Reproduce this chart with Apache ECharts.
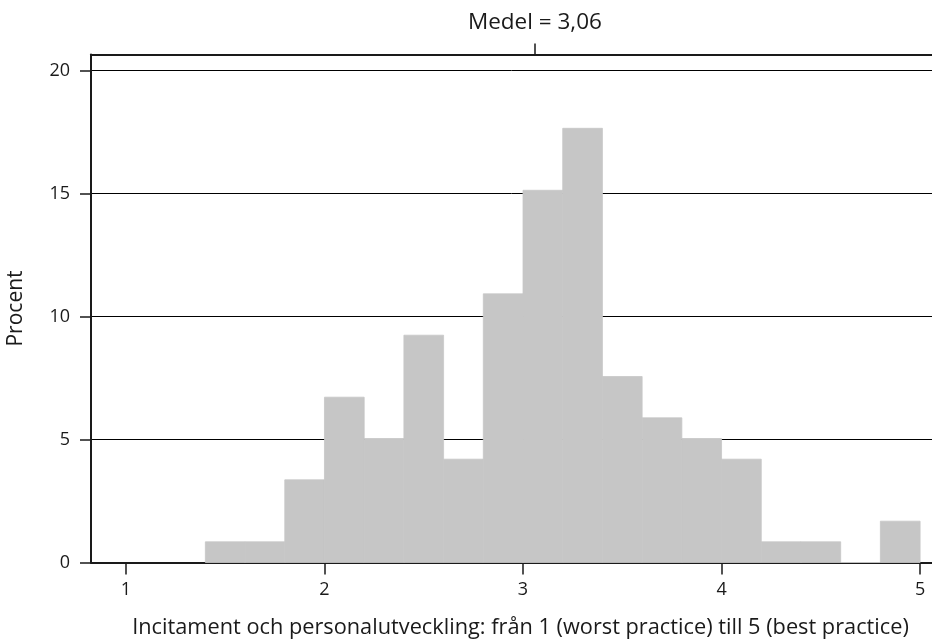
<!DOCTYPE html>
<html><head><meta charset="utf-8">
<script src="https://cdn.jsdelivr.net/npm/echarts@6/dist/echarts.min.js"></script>
<style>html,body{margin:0;padding:0;background:#fff}#c{width:932px;height:641px}</style>
</head><body><div id="c"></div>
<script>
// Histogram bins (lower edge, upper edge) and percent
const binStart = [1.4, 1.6, 1.8, 2.0, 2.2, 2.4, 2.6, 2.8, 3.0, 3.2, 3.4, 3.6, 3.8, 4.0, 4.2, 4.4, 4.6, 4.8];
const binEnd   = [1.6, 1.8, 2.0, 2.2, 2.4, 2.6, 2.8, 3.0, 3.2, 3.4, 3.6, 3.8, 4.0, 4.2, 4.4, 4.6, 4.8, 5.0];
const percent  = [0.84, 0.84, 3.36, 6.72, 5.04, 9.24, 4.2, 10.92, 15.13, 17.65, 7.56, 5.88, 5.04, 4.2, 0.84, 0.84, 0, 1.68];
const xTicks = [1, 2, 3, 4, 5];
const yTicks = [0, 5, 10, 15, 20];
const meanValue = 3.06;
const meanLabel = 'Medel = 3,06';
const xTitle = 'Incitament och personalutveckling: från 1 (worst practice) till 5 (best practice)';
const yTitle = 'Procent';

const data = binStart.map((s, i) => [s, binEnd[i], percent[i]]);
const FONT = 'Open Sans';
const chart = echarts.init(document.getElementById('c'), null, {renderer: 'canvas'});
chart.setOption({
  animation: false,
  backgroundColor: '#fff',
  grid: {left: 91, right: 0, top: 54.5, bottom: 78.5, containLabel: false, outerBoundsMode: 'none'},
  xAxis: [{
    type: 'value', min: 0.824, max: 5.06, position: 'bottom',
    axisLine: {show: true, lineStyle: {color: '#1a1a1a', width: 2}},
    axisTick: {show: true, length: 12, lineStyle: {color: '#1a1a1a', width: 1.5}, customValues: xTicks},
    axisLabel: {show: true, margin: 18, color: '#1a1a1a', fontFamily: FONT, fontSize: 18, customValues: xTicks, formatter: v => String(v)},
    splitLine: {show: false},
    name: xTitle, nameLocation: 'middle', nameGap: 54,
    nameTextStyle: {color: '#1a1a1a', fontFamily: FONT, fontSize: 21.75, padding: [0, 0, 0, 18]}
  }, {
    type: 'value', min: 0.824, max: 5.06, position: 'top',
    axisLine: {show: true, lineStyle: {color: '#1a1a1a', width: 2}},
    axisTick: {show: true, length: 11, lineStyle: {color: '#1a1a1a', width: 1.5}, customValues: [meanValue]},
    axisLabel: {show: true, margin: 20, color: '#1a1a1a', fontFamily: FONT, fontSize: 22.5, customValues: [meanValue], formatter: () => meanLabel},
    splitLine: {show: false}
  }],
  yAxis: {
    type: 'value', min: 0, max: 20.65,
    axisLine: {show: true, lineStyle: {color: '#1a1a1a', width: 2}},
    axisTick: {show: true, length: 11, lineStyle: {color: '#1a1a1a', width: 1.5}, customValues: yTicks},
    axisLabel: {show: true, margin: 21, color: '#1a1a1a', fontFamily: FONT, fontSize: 18, customValues: yTicks, formatter: v => String(v)},
    splitLine: {show: true, lineStyle: {color: '#000', width: 1}},
    name: yTitle, nameLocation: 'middle', nameGap: 64, nameRotate: 90,
    nameTextStyle: {color: '#1a1a1a', fontFamily: FONT, fontSize: 21}
  },
  series: [{
    type: 'custom',
    xAxisIndex: 0,
    data: data,
    encode: {x: [0, 1], y: 2},
    z: 3,
    renderItem: function (params, api) {
      const p0 = api.coord([api.value(0), api.value(2)]);
      const p1 = api.coord([api.value(1), 0]);
      return {
        type: 'rect',
        shape: {x: p0[0], y: p0[1], width: p1[0] - p0[0], height: p1[1] - p0[1]},
        style: {fill: '#c6c6c6', stroke: '#c6c6c6', lineWidth: 0.8}
      };
    }
  }]
});
</script></body></html>
